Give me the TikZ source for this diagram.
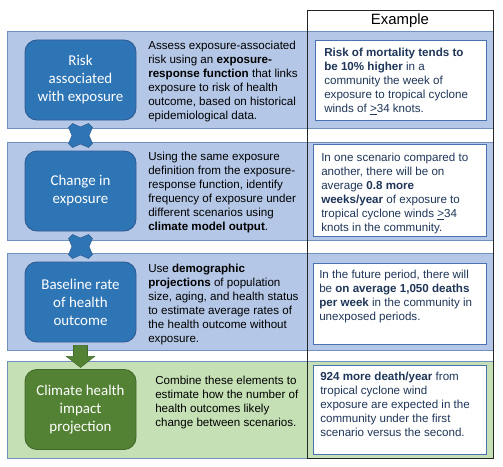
\documentclass[tikz,border=0pt]{standalone}
\usepackage{fontspec}
\setmainfont{Liberation Sans}
\newfontfamily\boxfont{Carlito}
\usetikzlibrary{positioning,calc}
\definecolor{bandblue}{HTML}{B4C7E7}
\definecolor{bandgreen}{HTML}{C5E0B4}
\definecolor{bandedge}{HTML}{7391BD}
\definecolor{stepblue}{HTML}{2E75B6}
\definecolor{stepblueedge}{HTML}{2F5C94}
\definecolor{stepgreen}{HTML}{548235}
\definecolor{stepgreenedge}{HTML}{3F6A2A}
\definecolor{exedge}{HTML}{4A72B0}
\definecolor{extext}{HTML}{1F3659}
\tikzset{
  band/.style={draw=bandedge, line width=0.7pt},
  stepbox/.style={rounded corners=9pt, line width=0.7pt, text=white,
    minimum width=111*0.75pt, minimum height=80*0.75pt, align=center,
    font=\boxfont\fontsize{11.2pt}{13.5pt}\selectfont, inner sep=0pt},
  desc/.style={anchor=north west, align=left, inner sep=0pt,
    font=\fontsize{8.7pt}{10.5pt}\selectfont},
  exbox/.style={draw=exedge, fill=white, line width=0.7pt, inner sep=0pt},
  extxt/.style={anchor=north west, align=left, inner sep=0pt, text=extext,
    font=\fontsize{8.7pt}{10.5pt}\selectfont},
}
\begin{document}
\begin{tikzpicture}[x=0.75pt,y=-0.75pt]
\useasboundingbox (0,0) rectangle (503,467);
% bands
\path[band, fill=bandblue] (7,31) rectangle (493,128);
\path[band, fill=bandblue] (7,142) rectangle (493,240);
\path[band, fill=bandblue] (7,253) rectangle (493,350);
\path[band, fill=bandgreen] (7,361) rectangle (493,458);
% step boxes
\node[stepbox, fill=stepblue, draw=stepblueedge] (s1) at (80.5,80) {Risk\\associated\\with exposure};
\node[stepbox, fill=stepblue, draw=stepblueedge] (s2) at (80.5,191) {Change in\\exposure};
\node[stepbox, fill=stepblue, draw=stepblueedge] (s3) at (80.5,302) {Baseline rate\\of health\\outcome};
\node[stepbox, fill=stepgreen, draw=stepgreenedge] (s4) at (80.5,409.5) {Climate health\\impact\\projection};
% cross connectors
\coordinate (c1) at ($(s1.south)!0.5!(s2.north)$);
\coordinate (c2) at ($(s2.south)!0.5!(s3.north)$);
\foreach \c in {c1,c2}{
  \fill[stepblue, draw=stepblueedge, line width=0.4pt, shift={(\c)}]
    (-12,-8) -- (-8,-12) -- (0,-8.5) -- (8,-12) -- (12,-8) -- (8.5,0) -- (12,8)
    -- (8,12) -- (0,8.5) -- (-8,12) -- (-12,8) -- (-8.5,0) -- cycle;
}
% green arrow
\coordinate (a0) at ($(s3.south)+(0,3)$);
\fill[stepgreen, draw=stepgreenedge, line width=0.4pt, shift={(a0)}]
  (-7,0) -- (7,0) -- (7,11) -- (14,11) -- (0,22) -- (-14,11) -- (-7,11) -- cycle;
% descriptions
\node[desc] (d1) at (148,40.5) {Assess exposure-associated\\risk using an \textbf{exposure-}\\\textbf{response function} that links\\exposure to risk of health\\outcome, based on historical\\epidemiological data.};
\node[desc] (d2) at (148,151.5) {Using the same exposure\\definition from the exposure-\\response function, identify\\frequency of exposure under\\different scenarios using\\\textbf{climate model output}.};
\node[desc] (d3) at (148,263.5) {Use \textbf{demographic}\\\textbf{projections} of population\\size, aging, and health status\\to estimate average rates of\\the health outcome without\\exposure.};
\node[desc] (d4) at (155,375.5) {Combine these elements to\\estimate how the number of\\health outcomes likely\\change between scenarios.};
% example boxes
\path[exbox] (315,40) rectangle (486,120);
\path[exbox] (313,144) rectangle (486,236);
\path[exbox] (313,263) rectangle (486,344);
\path[exbox] (313,365) rectangle (486,454);
\node[extxt] (e1) at (324,48) {\textbf{Risk of mortality tends to}\\\textbf{be 10\% higher} in a\\community the week of\\exposure to tropical cyclone\\winds of \underline{>}34 knots.};
\node[extxt] (e2) at (321,153) {In one scenario compared to\\another, there will be on\\average \textbf{0.8 more}\\\textbf{weeks/year} of exposure to\\tropical cyclone winds \underline{>}34\\knots in the community.};
\node[extxt] (e3) at (319,270) {In the future period, there will\\be \textbf{on average 1,050 deaths}\\\textbf{per week} in the community in\\unexposed periods.};
\node[extxt] (e4) at (320,372) {\textbf{924 more death/year} from\\tropical cyclone wind\\exposure are expected in the\\community under the first\\scenario versus the second.};
% example frame
\draw[black!85, line width=0.7pt] (307,10) rectangle (493,458);
\node[font=\fontsize{11.2pt}{13pt}\selectfont] (hdr) at (400,21) {Example};
\end{tikzpicture}
\end{document}
